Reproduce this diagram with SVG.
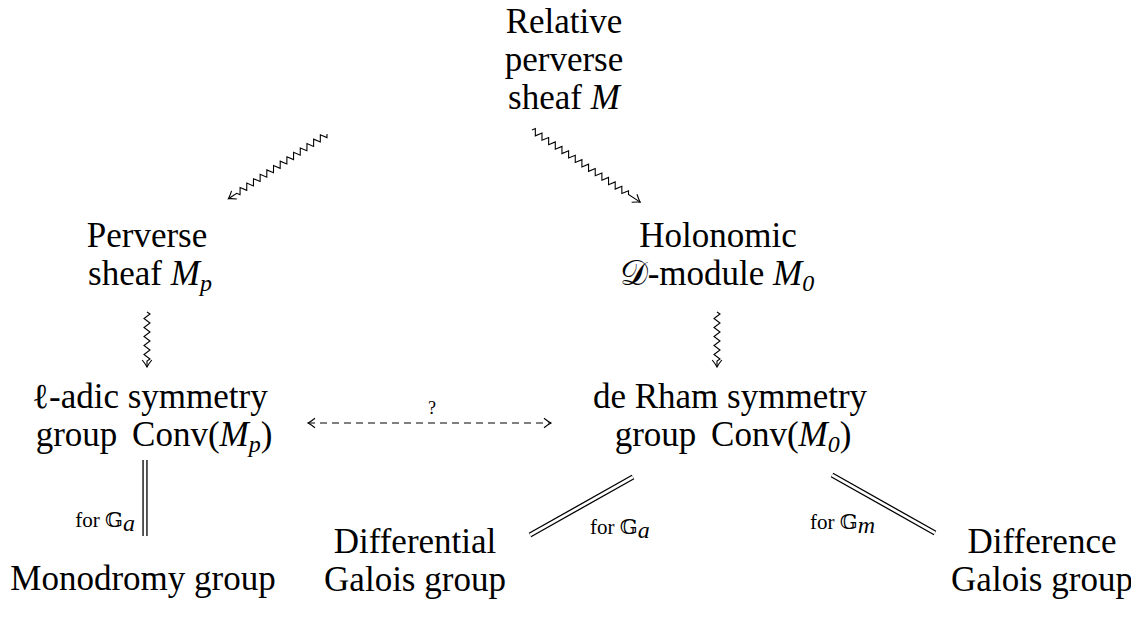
<svg xmlns="http://www.w3.org/2000/svg" width="1131" height="627" viewBox="0 0 1131 627">
<style>
text{font-family:"Liberation Serif","DejaVu Serif",serif;fill:#000}
.n{font-size:35px;text-anchor:middle}
.m{font-style:italic}
.s{font-size:24px;font-style:italic}
.lab{font-size:21px}
.bb{font-family:"DejaVu Serif","DejaVu Sans",serif;font-style:normal}
.sq{fill:none;stroke:#000;stroke-width:1.1;stroke-linejoin:miter}
.dbo{stroke:#000;stroke-width:5.2;fill:none}
.dbi{stroke:#fff;stroke-width:2.6;fill:none}
</style>
<defs>
<marker id="to" viewBox="-10 -7 14 14" markerWidth="14" markerHeight="14" refX="0" refY="0" orient="auto-start-reverse" markerUnits="userSpaceOnUse">
<path d="M-7,-4.8 Q-2.5,-1.2 0,0 Q-2.5,1.2 -7,4.8" fill="none" stroke="#000" stroke-width="1.1"/>
</marker>
<path id="sq118" d="M0,0 l2,-3 l4,6 l4,-6 l4,6 l4,-6 l4,6 l4,-6 l4,6 l4,-6 l4,6 l4,-6 l4,6 l4,-6 l4,6 l4,-6 l4,6 l4,-6 l4,6 l4,-6 l4,6 l4,-6 l4,6 l4,-6 l4,6 l4,-6 l4,6 l4,-6 l2,3 L118,0"/>
<path id="sq130" d="M0,0 l2,-3 l4,6 l4,-6 l4,6 l4,-6 l4,6 l4,-6 l4,6 l4,-6 l4,6 l4,-6 l4,6 l4,-6 l4,6 l4,-6 l4,6 l4,-6 l4,6 l4,-6 l4,6 l4,-6 l4,6 l4,-6 l4,6 l4,-6 l4,6 l4,-6 l4,6 l4,-6 l2,3 L130,0"/>
<path id="sq55" d="M0,0 l2,-3 l4.5,6 l4.5,-6 l4.5,6 l4.5,-6 l4.5,6 l4.5,-6 l4.5,6 l4.5,-6 l4.5,6 l4.5,-6 l2,3 L55,0"/>
</defs>
<rect width="1131" height="627" fill="#fff"/>

<g id="connectors">
<use href="#sq118" class="sq" marker-end="url(#to)" transform="translate(327,134) rotate(146.7)"/>
<use href="#sq130" class="sq" marker-end="url(#to)" transform="translate(532,130) rotate(33.7)"/>
<use href="#sq55" class="sq" marker-end="url(#to)" transform="translate(147,312) rotate(90)"/>
<use href="#sq55" class="sq" marker-end="url(#to)" transform="translate(717,312) rotate(90)"/>
<line x1="308" y1="423" x2="551" y2="423" stroke="#000" stroke-width="1" stroke-dasharray="7,5" marker-start="url(#to)" marker-end="url(#to)"/>
<text x="432" y="414" font-size="18" text-anchor="middle">?</text>
<line class="dbo" x1="145" y1="460" x2="145" y2="536"/>
<line class="dbi" x1="145" y1="460" x2="145" y2="536"/>
<text class="lab" x="135" y="527" text-anchor="end">for <tspan class="bb">𝔾</tspan><tspan class="s" font-size="15" dy="4">a</tspan></text>
<line class="dbo" x1="530" y1="535" x2="633" y2="477"/>
<line class="dbi" x1="530" y1="535" x2="633" y2="477"/>
<text class="lab" x="590" y="534">for <tspan class="bb">𝔾</tspan><tspan class="s" font-size="15" dy="4">a</tspan></text>
<line class="dbo" x1="832" y1="475" x2="935" y2="533"/>
<line class="dbi" x1="832" y1="475" x2="935" y2="533"/>
<text class="lab" x="810" y="529">for <tspan class="bb">𝔾</tspan><tspan class="s" font-size="15" dy="4">m</tspan></text>
</g>

<g id="relative">
<text class="n" x="564" y="33">Relative</text>
<text class="n" x="564" y="71">perverse</text>
<text class="n" x="564" y="109">sheaf <tspan class="m">M</tspan></text>
</g>
<g id="perverse">
<text class="n" x="147" y="247">Perverse</text>
<text class="n" x="150" y="285">sheaf <tspan class="m">M</tspan><tspan class="s" dy="6">p</tspan></text>
</g>
<g id="holonomic">
<text class="n" x="718" y="247">Holonomic</text>
<text class="n" x="717" y="285"><tspan class="bb" font-style="italic">𝒟</tspan>-module <tspan class="m">M</tspan><tspan class="s" dy="6">0</tspan></text>
</g>
<g id="ladic">
<text class="n" x="150" y="408">ℓ-adic symmetry</text>
<text class="n" x="154" y="446">group <tspan dx="6">Conv(</tspan><tspan class="m">M</tspan><tspan class="s" dy="6">p</tspan><tspan dy="-6">)</tspan></text>
</g>
<g id="derham">
<text class="n" x="730" y="408">de Rham symmetry</text>
<text class="n" x="733" y="446">group <tspan dx="6">Conv(</tspan><tspan class="m">M</tspan><tspan class="s" dy="6">0</tspan><tspan dy="-6">)</tspan></text>
</g>
<g id="monodromy">
<text class="n" x="143" y="590">Monodromy group</text>
</g>
<g id="differential">
<text class="n" x="415" y="553">Differential</text>
<text class="n" x="415" y="591">Galois group</text>
</g>
<g id="difference">
<text class="n" x="1042" y="553">Difference</text>
<text class="n" x="1042" y="591">Galois group</text>
</g>
</svg>
